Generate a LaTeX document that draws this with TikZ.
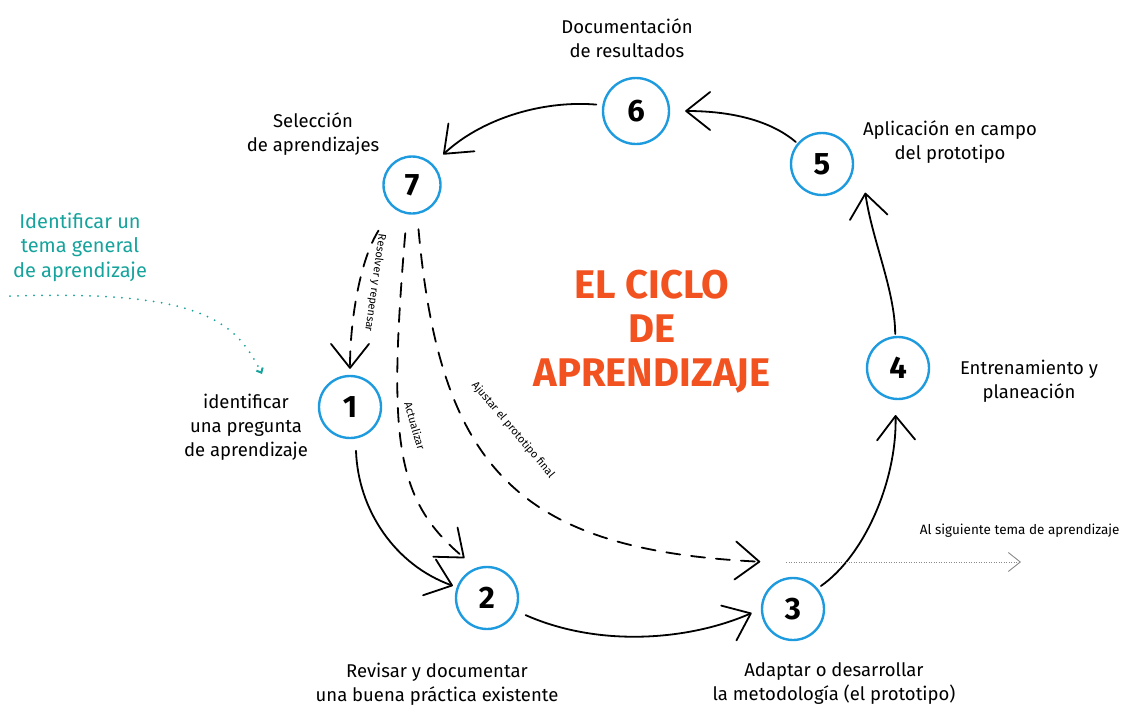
\documentclass[tikz,border=0pt]{standalone}
\usepackage{fontspec}
\setmainfont{Fira Sans}
\usetikzlibrary{arrows.meta}
\definecolor{azul}{HTML}{1E9BDF}
\definecolor{naranja}{HTML}{F1521F}
\definecolor{verde}{HTML}{16A39C}
\definecolor{gris}{HTML}{8A8A8A}
\begin{document}
\begin{tikzpicture}[x=1pt,y=-1pt,
   paso/.style={circle,draw=azul,line width=2.4pt,minimum size=62pt,inner sep=0pt,font=\fontsize{31}{31}\selectfont\bfseries},
   texto/.style={align=center,font=\fontsize{18.5}{24}\selectfont},
   nota/.style={font=\fontsize{11}{13}\selectfont},
   flecha/.style={line width=1.8pt,line cap=round,-{Straight Barb[round,length=24pt,width=38pt]}},
   raya/.style={flecha,dash pattern=on 14pt off 11pt}]
   \useasboundingbox (0,0) rectangle (1124,707);

   \node[paso] (p1) at (350,407) {1};
   \node[paso] (p2) at (487,598) {2};
   \node[paso] (p3) at (793,609) {3};
   \node[paso] (p4) at (898,368) {4};
   \node[paso] (p5) at (822,164) {5};
   \node[paso,minimum size=66pt] (p6) at (636,111) {6};
   \node[paso,minimum size=57pt] (p7) at (412,185) {7};

   \node[texto] (t6) at (627,38) {Documentación\\de resultados};
   \node[texto] (t7) at (313,134) {Selección\\de aprendizajes};
   \node[texto] (t5) at (950,142) {Aplicación en campo\\del prototipo};
   \node[texto] (t4) at (1029,381) {Entrenamiento y\\planeación};
   \node[texto] (t1) at (246,427) {identificar\\una pregunta\\de aprendizaje};
   \node[texto] (t2) at (437,684) {Revisar y documentar\\una buena práctica existente};
   \node[texto] (t3) at (834,684) {Adaptar o desarrollar\\la metodología (el prototipo)};
   \node[texto,text=verde,font=\fontsize{20}{24.5}\selectfont] (tema) at (80,247) {Identificar un\\tema general\\de aprendizaje};
   \node[align=center,text=naranja,font=\fontsize{40}{44}\selectfont\bfseries] (ciclo) at (652,332) {EL CICLO\\DE\\APRENDIZAJE};
   \node[nota,anchor=east,font=\fontsize{13.5}{15}\selectfont] (sig) at (1123,531) {Al siguiente tema de aprendizaje};

   \draw[flecha,shorten <=12pt,shorten >=4pt] (p1.-80) .. controls (358,510) and (395,565) .. (p2);
   \draw[flecha,shorten <=10pt,shorten >=10pt] (p2) .. controls (600,648) and (690,640) .. (p3.180);
   \draw[flecha,shorten <=4pt,shorten >=15pt] (p3.40) .. controls (865,555) and (897,480) .. (p4.-95);
   \draw[flecha,shorten <=2pt,shorten >=4pt] (p4.95) .. controls (895,290) and (872,240) .. ([xshift=22pt]p5.-50);
   \draw[flecha,shorten <=2pt,shorten >=15pt] (p5.140) .. controls (770,120) and (730,111) .. (p6.east);
   \draw[flecha,shorten <=6pt,shorten >=14pt] (p6.170) .. controls (540,100) and (480,120) .. (p7.45);

   \draw[raya,shorten <=27pt,shorten >=6pt] (p7.-130) .. controls (360,260) and (350,320) .. (p1.north);
   \draw[raya,shorten <=19pt,shorten >=15pt] (p7.-100) .. controls (388,440) and (395,500) .. (p2.110);
   \draw[raya,shorten <=15pt,shorten >=10pt] (p7.-80) .. controls (440,470) and (520,550) .. ([yshift=24pt]p3.135);

   \node[nota,rotate=-98] (e1) at (375,283) {Resolver y repensar};
   \node[nota,rotate=-74] (e2) at (415,426) {Actualizar};
   \node[nota,rotate=-50] (e3) at (513,430) {Ajustar el prototipo final};

   \coordinate (a0) at (10,296);
   \coordinate (a1) at (262,374);
   \draw[verde,line width=2pt,line cap=round,dash pattern=on 0pt off 8pt,-{Straight Barb[length=4pt,width=7pt]}] (a0) .. controls (200,290) and (235,320) .. (a1);

   \coordinate (b0) at (786,562);
   \coordinate (b1) at (1021,562);
   \draw[gris,line width=0.9pt,dash pattern=on 1pt off 1.5pt,-{Straight Barb[length=12pt,width=19pt]}] (b0) -- (b1);
\end{tikzpicture}
\end{document}
